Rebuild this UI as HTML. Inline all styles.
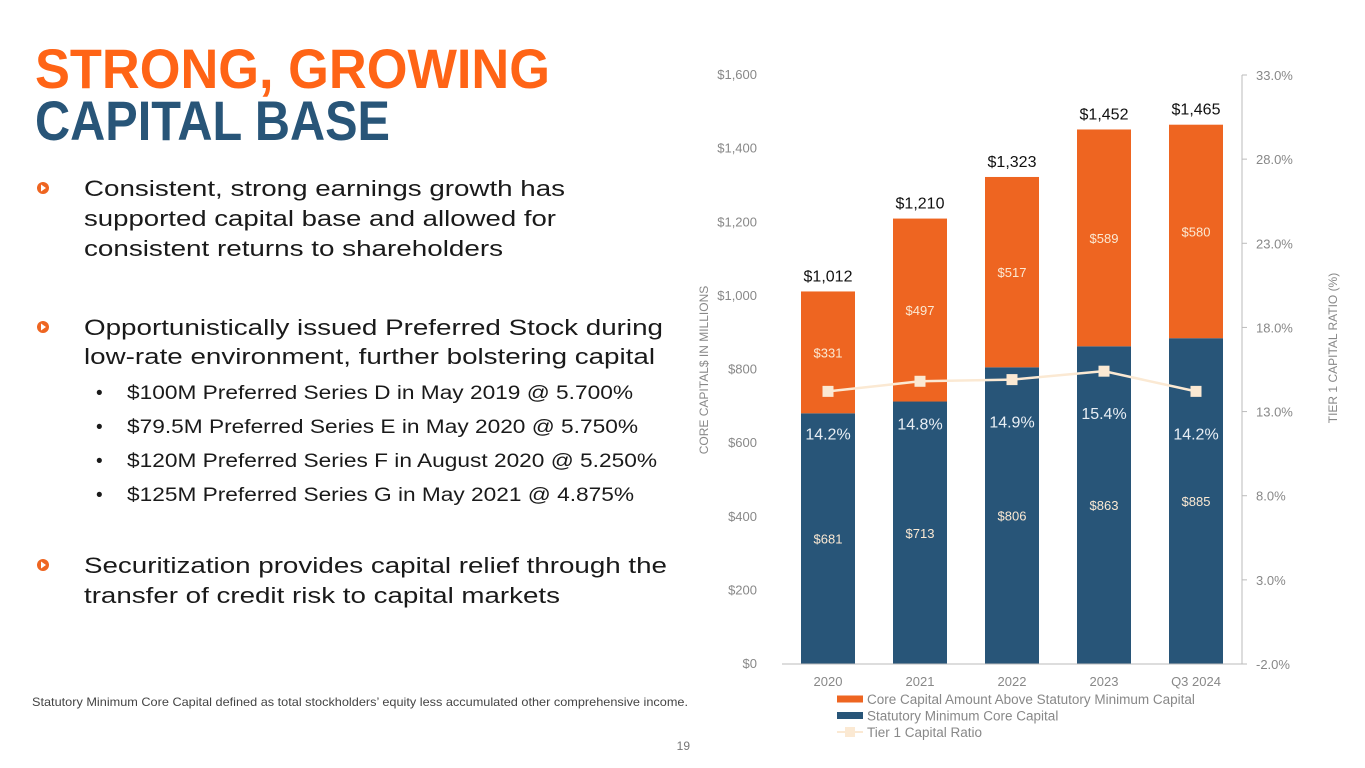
<!DOCTYPE html>
<html><head><meta charset="utf-8"><style>
html,body{margin:0;padding:0;background:#fff;}
svg{display:block;font-family:"Liberation Sans",sans-serif;}
</style></head><body>
<svg id="page" width="1365" height="768" viewBox="0 0 1365 768">
  <g font-weight="bold">
    <text x="35" y="88" font-size="56" fill="#FF6416" textLength="515" lengthAdjust="spacingAndGlyphs">STRONG, GROWING</text>
    <text x="35" y="140" font-size="56" fill="#285578" textLength="355" lengthAdjust="spacingAndGlyphs">CAPITAL BASE</text>
  </g>
  <g fill="#1a1a1a" font-size="22">
    <g><circle cx="43" cy="188" r="6" fill="#EE6521"/><path d="M41 184.5 L46 188 L41 191.5Z" fill="#fff"/></g>
    <text x="84" y="196" textLength="481" lengthAdjust="spacingAndGlyphs">Consistent, strong earnings growth has</text>
    <text x="84" y="226" textLength="472" lengthAdjust="spacingAndGlyphs">supported capital base and allowed for</text>
    <text x="84" y="256" textLength="419" lengthAdjust="spacingAndGlyphs">consistent returns to shareholders</text>
    <g><circle cx="43" cy="327" r="6" fill="#EE6521"/><path d="M41 323.5 L46 327 L41 330.5Z" fill="#fff"/></g>
    <text x="84" y="335" textLength="579" lengthAdjust="spacingAndGlyphs">Opportunistically issued Preferred Stock during</text>
    <text x="84" y="364" textLength="571" lengthAdjust="spacingAndGlyphs">low-rate environment, further bolstering capital</text>
    <g font-size="19">
      <text x="96" y="399">•</text>
      <text x="127" y="399" textLength="506" lengthAdjust="spacingAndGlyphs">$100M Preferred Series D in May 2019 @ 5.700%</text>
      <text x="96" y="433">•</text>
      <text x="127" y="433" textLength="511" lengthAdjust="spacingAndGlyphs">$79.5M Preferred Series E in May 2020 @ 5.750%</text>
      <text x="96" y="467">•</text>
      <text x="127" y="467" textLength="530" lengthAdjust="spacingAndGlyphs">$120M Preferred Series F in August 2020 @ 5.250%</text>
      <text x="96" y="501">•</text>
      <text x="127" y="501" textLength="507" lengthAdjust="spacingAndGlyphs">$125M Preferred Series G in May 2021 @ 4.875%</text>
    </g>
    <g><circle cx="43" cy="565" r="6" fill="#EE6521"/><path d="M41 561.5 L46 565 L41 568.5Z" fill="#fff"/></g>
    <text x="84" y="573" textLength="583" lengthAdjust="spacingAndGlyphs">Securitization provides capital relief through the</text>
    <text x="84" y="603" textLength="476" lengthAdjust="spacingAndGlyphs">transfer of credit risk to capital markets</text>
  </g>
  <text x="32" y="706" font-size="12" fill="#444" textLength="656" lengthAdjust="spacingAndGlyphs">Statutory Minimum Core Capital defined as total stockholders’ equity less accumulated other comprehensive income.</text>
  <text x="690" y="750" font-size="12" fill="#777" text-anchor="end">19</text>
  <g id="chart"></g>
</svg>
<script>
const categories = ["2020","2021","2022","2023","Q3 2024"];
const minCapital = [681,713,806,863,885];
const aboveMin = [331,497,517,589,580];
const totals = ["$1,012","$1,210","$1,323","$1,452","$1,465"];
const tier1Ratio = [14.2,14.8,14.9,15.4,14.2];
const leftTicks = [0,200,400,600,800,1000,1200,1400,1600];
const rightTicks = [-2,3,8,13,18,23,28,33];

const NS="http://www.w3.org/2000/svg";
const g=document.getElementById('chart');
const X0=782,X1=1242,Y0=664,Y1=75;
const yL=v=>Y0-(v-0)/(1600-0)*(Y0-Y1);
const yR=v=>Y0-(v-(-2))/(33-(-2))*(Y0-Y1);
const band=(X1-X0)/categories.length;
const xC=i=>X0+band*(i+0.5);
const BW=54;
function mk(tag,attrs,txt){const e=document.createElementNS(NS,tag);for(const k in attrs)e.setAttribute(k,attrs[k]);if(txt!=null)e.textContent=txt;g.appendChild(e);return e;}
const fmt=n=>'$'+n.toLocaleString('en-US');

leftTicks.forEach(t=>{
  const e=mk('text',{x:757,y:yL(t)+4,'font-size':13,fill:'#888','text-anchor':'end'},fmt(t));
  
  
});
rightTicks.forEach(t=>{
  const y=yR(t);
  const l=mk('line',{x1:X1,x2:X1+5,y1:y,y2:y,stroke:'#bbb'});
  
  
  const e=mk('text',{x:1256,y:y+5,'font-size':13,fill:'#888'},t.toFixed(1)+'%');
  
  
});
const ra=mk('line',{x1:X1,x2:X1,y1:Y1,y2:Y0,stroke:'#bbb'});



categories.forEach((c,i)=>{
  const x=xC(i)-BW/2;
  const yb=yL(minCapital[i]), yt=yL(minCapital[i]+aboveMin[i]);
  const b1=mk('rect',{x:x,y:yb,width:BW,height:Y0-yb,fill:'#285578'});
  
  
  const b2=mk('rect',{x:x,y:yt,width:BW,height:yb-yt,fill:'#EE6521'});
  
  
  const l1=mk('text',{x:xC(i),y:(yb+Y0)/2+5,'font-size':13,fill:'#fbe9d3','text-anchor':'middle'},fmt(minCapital[i]));
  
  
  const l2=mk('text',{x:xC(i),y:(yt+yb)/2+5,'font-size':13,fill:'#fbe9d3','text-anchor':'middle'},fmt(aboveMin[i]));
  
  
  const l3=mk('text',{x:xC(i),y:yt-10,'font-size':16,fill:'#111','text-anchor':'middle'},totals[i]);
  
  
  const l4=mk('text',{x:xC(i),y:yL(0)+22,'font-size':13,fill:'#888','text-anchor':'middle'},c);
  
  
});
const ax=mk('line',{x1:X0,x2:X1,y1:Y0,y2:Y0,stroke:'#bbb'});



const pts=tier1Ratio.map((v,i)=>xC(i)+','+yR(v)).join(' ');
const pl=mk('polyline',{points:pts,fill:'none',stroke:'#fbe9d3','stroke-width':2.5});


tier1Ratio.forEach((v,i)=>{
  const y=yR(v);
  const m=mk('rect',{x:xC(i)-5.5,y:y-5.5,width:11,height:11,fill:'#fbe9d3'});
  
  
  const t=mk('text',{x:xC(i),y:y+48,'font-size':16,fill:'#e8eef4','text-anchor':'middle'},v.toFixed(1)+'%');
  
  
});

const at1=mk('text',{x:0,y:0,'font-size':12,fill:'#888','text-anchor':'middle',transform:'translate(708,370) rotate(-90)'},'CORE CAPITAL$ IN MILLIONS');


const at2=mk('text',{x:0,y:0,'font-size':12,fill:'#888','text-anchor':'middle',transform:'translate(1337,348) rotate(-90)'},'TIER 1 CAPITAL RATIO (%)');



const leg=[['#EE6521','Core Capital Amount Above Statutory Minimum Capital','rect'],['#285578','Statutory Minimum Core Capital','rect'],['#fbe9d3','Tier 1 Capital Ratio','line']];
leg.forEach((L,i)=>{
  const y=699+i*16.5;
  if(L[2]==='rect'){
    const s=mk('rect',{x:837,y:y-3.5,width:26,height:7,fill:L[0]});
    
    
  } else {
    const s=mk('line',{x1:837,x2:863,y1:y,y2:y,stroke:L[0],'stroke-width':2});
    
    
    const m=mk('rect',{x:845,y:y-5,width:10,height:10,fill:L[0]});
    
    
  }
  const t=mk('text',{x:867,y:y+5,'font-size':13.5,fill:'#888'},L[1]);
  
  
});
</script>
</body></html>
